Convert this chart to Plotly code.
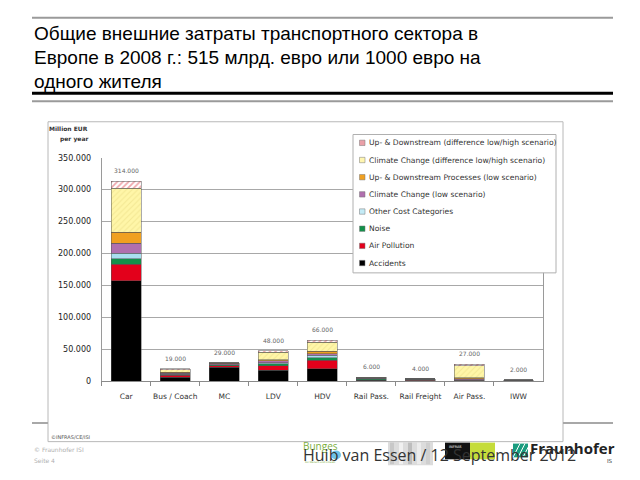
import plotly.graph_objects as go

W, H = 640, 480

# ---------------- data (million EUR per year) ----------------
categories = ["Car", "Bus / Coach", "MC", "LDV", "HDV", "Rail Pass.", "Rail Freight", "Air Pass.", "IWW"]
accidents = [157000, 6000, 22000, 17000, 19000, 1000, 500, 300, 200]
air_pollution = [26500, 3000, 2000, 7000, 14000, 1500, 1000, 700, 800]
noise = [8000, 1000, 1500, 3000, 3500, 1000, 800, 500, 100]
other_costs = [9000, 1000, 500, 2000, 4000, 500, 300, 500, 100]
climate_low = [15500, 1500, 1000, 2500, 2000, 500, 300, 2000, 300]
updown_low = [17500, 1500, 1000, 2000, 4000, 1000, 500, 1000, 200]
climate_diff = [69000, 4000, 500, 11500, 14500, 300, 200, 19000, 200]
updown_diff = [11000, 1000, 500, 2500, 3000, 200, 200, 2500, 100]
total_labels = ["314.000", "19.000", "29.000", "48.000", "66.000", "6.000", "4.000", "27.000", "2.000"]

series_names = [
    "Accidents", "Air Pollution", "Noise", "Other Cost Categories",
    "Climate Change (low scenario)", "Up- & Downstream Processes (low scenario)",
    "Climate Change (difference low/high scenario)",
    "Up- & Downstream (difference low/high scenario)",
]
series_values = [accidents, air_pollution, noise, other_costs, climate_low,
                 updown_low, climate_diff, updown_diff]

y_tickvals = [0, 50000, 100000, 150000, 200000, 250000, 300000, 350000]
y_ticktext = ["0", "50.000", "100.000", "150.000", "200.000", "250.000", "300.000", "350.000"]

title_lines = [
    "Общие внешние затраты транспортного сектора в",
    "Европе в 2008 г.: 515 млрд. евро или 1000 евро на",
    "одного жителя",
]

# ---------------- styles ----------------
styles = [
    dict(color="#000000"),
    dict(color="#e3001b"),
    dict(color="#12904a"),
    dict(color="#a9dff0"),
    dict(color="#b06fae"),
    dict(color="#f0a020"),
    dict(color="#fff4a0", pattern=dict(shape="/", fgcolor="#e6d880", bgcolor="#fff6a8", size=4, solidity=0.25)),
    dict(color="#ffffff", pattern=dict(shape="/", fgcolor="#e0505a", bgcolor="#ffffff", size=4, solidity=0.45)),
]
legend_colors = ["#000000", "#e3001b", "#12904a", "#c4ebf6", "#b06fae", "#f0a020", "#fff6b0", "#eaa0a8"]


def px(x):
    return x / W


def py(y):
    return 1 - y / H


fig = go.Figure()
for name, vals, st in zip(series_names, series_values, styles):
    marker = dict(color=st["color"], line=dict(color="#555555", width=0.5))
    if "pattern" in st:
        marker["pattern"] = st["pattern"]
    fig.add_trace(go.Bar(x=categories, y=vals, name=name, marker=marker, showlegend=False))

# totals labels
totals = [sum(v[i] for v in series_values) for i in range(len(categories))]
annotations = []
for cat, tot, lab in zip(categories, totals, total_labels):
    annotations.append(dict(x=cat, y=tot, xref="x", yref="y", text=lab, showarrow=False,
                            yanchor="bottom", yshift=5,
                            font=dict(family="DejaVu Sans", size=6, color="#666666")))

# title
for i, line in enumerate(title_lines):
    annotations.append(dict(x=px(32), y=py(17 + i * 24.5), xref="paper", yref="paper", text=line,
                            showarrow=False, xanchor="left", yanchor="top",
                            font=dict(family="Liberation Sans", size=19, color="#000000")))

# y axis title
annotations.append(dict(x=px(90), y=py(127), xref="paper", yref="paper", text="<b>Million EUR</b>",
                        showarrow=False, xanchor="right", yanchor="middle",
                        font=dict(family="DejaVu Sans", size=6, color="#333333")))
annotations.append(dict(x=px(90), y=py(138), xref="paper", yref="paper", text="<b>per year</b>",
                        showarrow=False, xanchor="right", yanchor="middle",
                        font=dict(family="DejaVu Sans", size=6, color="#333333")))

shapes = []
# slide lines
shapes.append(dict(type="line", xref="paper", yref="paper", x0=px(32), x1=px(613), y0=py(14), y1=py(14),
                   line=dict(color="#9a9a9a", width=2)))
shapes.append(dict(type="line", xref="paper", yref="paper", x0=px(32), x1=px(613), y0=py(91), y1=py(91),
                   line=dict(color="#000000", width=3)))
shapes.append(dict(type="line", xref="paper", yref="paper", x0=px(32), x1=px(613), y0=py(99), y1=py(99),
                   line=dict(color="#9a9a9a", width=2)))
# footer line (outside chart box)
shapes.append(dict(type="line", xref="paper", yref="paper", x0=px(32), x1=px(48), y0=py(427), y1=py(427),
                   line=dict(color="#a8a8a8", width=2)))
shapes.append(dict(type="line", xref="paper", yref="paper", x0=px(563), x1=px(613), y0=py(427), y1=py(427),
                   line=dict(color="#a8a8a8", width=2)))
# chart box
shapes.append(dict(type="rect", xref="paper", yref="paper", x0=px(48), x1=px(563), y0=py(446), y1=py(120),
                   line=dict(color="#b8b8b8", width=1), fillcolor="rgba(0,0,0,0)", layer="below"))

# legend box (drawn above plot)
lx0, lx1, ly0, ly1 = 353, 556, 133, 274
shapes.append(dict(type="rect", xref="paper", yref="paper", x0=px(lx0), x1=px(lx1), y0=py(ly1), y1=py(ly0),
                   line=dict(color="#b0b0b0", width=1), fillcolor="#ffffff", layer="above"))
legend_order = list(range(len(series_names)))[::-1]
for row, idx in enumerate(legend_order):
    yc = 141.5 + row * 17.5
    shapes.append(dict(type="rect", xref="paper", yref="paper", x0=px(359.5), x1=px(365), y0=py(yc + 2.75),
                       y1=py(yc - 2.75), line=dict(color="#777777", width=0.5), fillcolor=legend_colors[idx],
                       layer="above"))
    annotations.append(dict(x=px(366.5), y=py(yc), xref="paper", yref="paper", text=series_names[idx],
                            showarrow=False, xanchor="left", yanchor="middle",
                            font=dict(family="DejaVu Sans", size=7.6, color="#333333")))

# footer logos (approximations)
shapes.append(dict(type="rect", xref="paper", yref="paper", x0=px(388), x1=px(433), y0=py(470), y1=py(446),
                   line=dict(width=0), fillcolor="#dcdcdc", layer="above"))
for k, c in enumerate(["#c8c8c8", "#f0f0f0", "#bdbdbd", "#ececec", "#cfcfcf"]):
    shapes.append(dict(type="rect", xref="paper", yref="paper", x0=px(390 + k * 9), x1=px(394 + k * 9),
                       y0=py(469), y1=py(447), line=dict(width=0), fillcolor=c, layer="above"))
shapes.append(dict(type="rect", xref="paper", yref="paper", x0=px(445), x1=px(470), y0=py(464), y1=py(447),
                   line=dict(width=0), fillcolor="#111111", layer="above"))
shapes.append(dict(type="rect", xref="paper", yref="paper", x0=px(470), x1=px(495), y0=py(464), y1=py(447),
                   line=dict(width=0), fillcolor="#c5dc3a", layer="above"))
shapes.append(dict(type="rect", xref="paper", yref="paper", x0=px(513), x1=px(528), y0=py(462), y1=py(448),
                   line=dict(width=0), fillcolor="#1a9c7e", layer="above"))
for k in range(3):
    shapes.append(dict(type="line", xref="paper", yref="paper", x0=px(513 + k * 5), x1=px(520 + k * 5),
                       y0=py(462), y1=py(448), line=dict(color="#ffffff", width=1), layer="above"))
shapes.append(dict(type="circle", xref="paper", yref="paper", x0=px(331), x1=px(341), y0=py(464), y1=py(455),
                   line=dict(width=0), fillcolor="#6fc3e8", layer="above"))

annotations.append(dict(x=px(49), y=py(441), xref="paper", yref="paper", text="©INFRAS/CE/ISI",
                        showarrow=False, xanchor="left", yanchor="middle",
                        font=dict(family="DejaVu Sans", size=5, color="#555555")))
annotations.append(dict(x=px(32), y=py(454), xref="paper", yref="paper", text="© Fraunhofer ISI",
                        showarrow=False, xanchor="left", yanchor="middle",
                        font=dict(family="DejaVu Sans", size=6, color="#b0b0b0")))
annotations.append(dict(x=px(32), y=py(465), xref="paper", yref="paper", text="Seite 4",
                        showarrow=False, xanchor="left", yanchor="middle",
                        font=dict(family="DejaVu Sans", size=6, color="#b0b0b0")))
annotations.append(dict(x=px(301), y=py(450), xref="paper", yref="paper", text="Bunges",
                        showarrow=False, xanchor="left", yanchor="middle",
                        font=dict(family="Open Sans", size=10, color="#7cae3c")))
annotations.append(dict(x=px(303), y=py(467), xref="paper", yref="paper", text="Für Mensch und Umwelt",
                        showarrow=False, xanchor="left", yanchor="middle",
                        font=dict(family="DejaVu Sans", size=2.5, color="#7cae3c")))
annotations.append(dict(x=px(447), y=py(451), xref="paper", yref="paper", text="INFRAS",
                        showarrow=False, xanchor="left", yanchor="middle",
                        font=dict(family="DejaVu Sans", size=3.5, color="#ffffff")))
annotations.append(dict(x=px(528), y=py(452), xref="paper", yref="paper", text="<b>Fraunhofer</b>",
                        showarrow=False, xanchor="left", yanchor="middle",
                        font=dict(family="Open Sans", size=15, color="#222222")))
annotations.append(dict(x=px(605), y=py(466), xref="paper", yref="paper", text="IS",
                        showarrow=False, xanchor="left", yanchor="middle",
                        font=dict(family="DejaVu Sans", size=5.5, color="#333333")))
annotations.append(dict(x=px(301), y=py(460), xref="paper", yref="paper",
                        text="Huib van Essen / 12 September 2012",
                        showarrow=False, xanchor="left", yanchor="middle",
                        font=dict(family="Open Sans", size=16, color="#333333")))

fig.update_layout(
    width=W, height=H,
    margin=dict(l=0, r=0, t=0, b=0),
    paper_bgcolor="#ffffff", plot_bgcolor="rgba(0,0,0,0)",
    barmode="stack", bargap=0.39,
    showlegend=False,
    shapes=shapes, annotations=annotations,
    xaxis=dict(domain=[px(101.7), px(543)], type="category", showgrid=False,
               showline=True, linecolor="#8a8a8a", linewidth=1, mirror=False,
               ticks="outside", tickson="boundaries", ticklen=4, tickcolor="#8a8a8a",
               tickangle=0, ticklabelstandoff=8,
               tickfont=dict(family="DejaVu Sans", size=7.5, color="#333333"), fixedrange=True),
    yaxis=dict(domain=[py(384.3), py(156.7)], range=[0, 350000], tickvals=y_tickvals, ticktext=y_ticktext,
               showgrid=True, gridcolor="#a8a8a8", gridwidth=1, zeroline=False,
               showline=True, linecolor="#9a9a9a", linewidth=1, mirror=True,
               ticks="", ticklabelstandoff=8,
               tickfont=dict(family="DejaVu Sans", size=8, color="#222222"), fixedrange=True),
)

fig.write_html("out.html")
